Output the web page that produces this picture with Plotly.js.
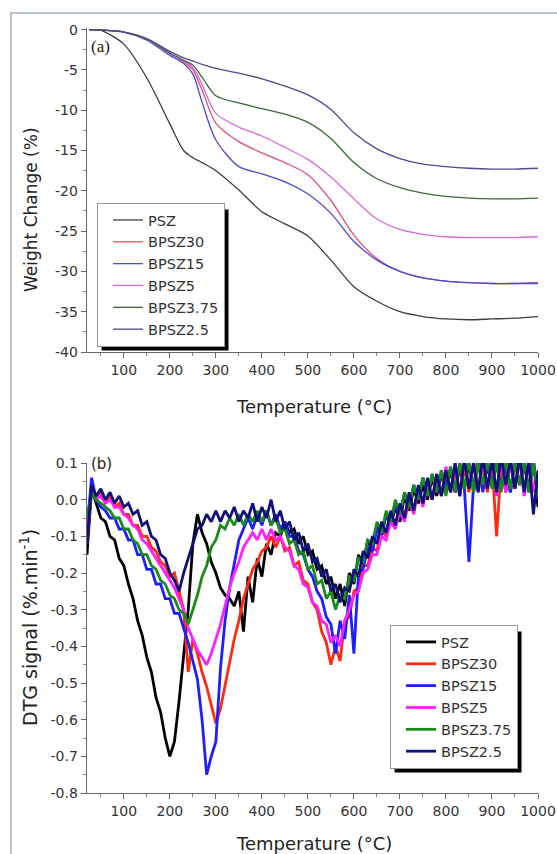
<!DOCTYPE html>
<html><head><meta charset="utf-8">
<script src="https://cdn.plot.ly/plotly-3.0.1.min.js"></script>
<style>html,body{margin:0;padding:0;background:#fff}#chart{width:557px;height:854px}</style>
</head><body><div id="chart"></div>
<script>
// ---------- (a) TGA ----------
const seriesNames = ["PSZ","BPSZ30","BPSZ15","BPSZ5","BPSZ3.75","BPSZ2.5"];
const tgaTemp = [25,50,100,150,200,230,250,270,300,350,400,450,500,550,600,650,700,750,800,850,900,950,1000];
const tgaPSZ     = [0,-0.1,-1.8,-6.0,-11.7,-15.0,-15.9,-16.5,-17.5,-19.9,-22.6,-24.1,-25.6,-28.6,-31.9,-33.7,-35.0,-35.6,-35.9,-36.0,-35.9,-35.8,-35.6];
const tgaBPSZ30  = [0,-0.05,-0.3,-1.2,-3.0,-4.0,-5.0,-7.5,-11.6,-13.9,-15.3,-16.5,-18.0,-21.2,-25.5,-28.4,-30.0,-30.8,-31.2,-31.4,-31.5,-31.5,-31.4];
const tgaBPSZ15  = [0,-0.05,-0.3,-1.3,-3.2,-4.2,-5.5,-9.0,-13.7,-17.0,-17.9,-18.9,-20.4,-22.8,-26.3,-28.6,-30.0,-30.8,-31.2,-31.4,-31.5,-31.5,-31.5];
const tgaBPSZ5   = [0,-0.05,-0.3,-1.2,-3.0,-3.9,-4.7,-6.8,-10.4,-12.1,-13.2,-14.6,-16.1,-18.3,-21.0,-23.5,-24.8,-25.4,-25.7,-25.8,-25.8,-25.8,-25.7];
const tgaBPSZ375 = [0,-0.05,-0.3,-1.2,-2.9,-3.8,-4.4,-5.9,-8.2,-9.1,-9.8,-10.5,-11.5,-13.5,-16.5,-18.5,-19.6,-20.3,-20.7,-20.9,-21.0,-21.0,-20.9];
const tgaBPSZ25  = [0,-0.05,-0.3,-1.1,-2.7,-3.5,-3.9,-4.3,-4.8,-5.4,-6.1,-7.0,-8.1,-9.9,-12.8,-14.8,-16.0,-16.7,-17.0,-17.2,-17.3,-17.3,-17.2];
const tgaTickVals = [0,-5,-10,-15,-20,-25,-30,-35,-40];
const tgaTickText = ["0","-5","-10","-15","-20","-25","-30","-35","-40"];

// ---------- (b) DTG ----------
const dtgTemp = [20,30,40,50,60,70,80,90,100,110,
 120,130,140,150,160,170,180,190,200,210,
 220,230,240,250,260,270,280,290,300,310,
 320,330,340,350,360,370,380,390,400,410,
 420,430,440,450,460,470,480,490,500,510,
 520,530,540,550,560,570,580,590,600,610,
 620,630,640,650,660,670,680,690,700,710,
 720,730,740,750,760,770,780,790,800,810,
 820,830,840,850,860,870,880,890,900,910,
 920,930,940,950,960,970,980,990,1000];
const dtgPSZ = [-0.15,0.03,-0.01,-0.05,-0.06,-0.10,-0.11,-0.16,-0.18,-0.23,
 -0.27,-0.33,-0.37,-0.43,-0.47,-0.54,-0.58,-0.65,-0.70,-0.66,
 -0.55,-0.42,-0.30,-0.12,-0.04,-0.09,-0.12,-0.17,-0.20,-0.24,
 -0.26,-0.27,-0.29,-0.25,-0.36,-0.21,-0.28,-0.16,-0.21,-0.12,
 -0.15,-0.09,-0.10,-0.06,-0.09,-0.08,-0.12,-0.10,-0.15,-0.14,
 -0.19,-0.18,-0.23,-0.21,-0.27,-0.23,-0.29,-0.20,-0.23,-0.15,
 -0.18,-0.11,-0.14,-0.07,-0.10,-0.04,-0.07,-0.02,-0.06,0.01,
 -0.03,0.03,-0.01,0.04,0.00,0.06,0.01,0.07,0.02,0.08,
 0.02,0.09,0.03,0.10,0.02,0.11,0.03,0.09,0.04,0.11,
 0.03,0.10,0.02,0.11,0.04,0.10,0.03,0.11,-0.02];
const dtgBPSZ30 = [-0.12,0.03,0.01,0.02,-0.01,0.01,-0.02,-0.01,-0.04,-0.04,
 -0.07,-0.07,-0.10,-0.10,-0.13,-0.14,-0.17,-0.18,-0.21,-0.20,
 -0.25,-0.30,-0.47,-0.38,-0.42,-0.47,-0.51,-0.56,-0.61,-0.57,
 -0.51,-0.45,-0.38,-0.33,-0.27,-0.23,-0.19,-0.17,-0.14,-0.13,
 -0.10,-0.13,-0.10,-0.14,-0.13,-0.18,-0.17,-0.22,-0.23,-0.28,
 -0.30,-0.36,-0.39,-0.45,-0.40,-0.44,-0.33,-0.32,-0.25,-0.24,
 -0.18,-0.18,-0.13,-0.14,-0.08,-0.10,-0.05,-0.07,-0.02,-0.05,
 0.01,-0.03,0.03,-0.01,0.05,0.00,0.06,0.01,0.07,0.02,
 0.08,0.01,0.09,0.02,0.10,0.03,0.09,0.02,0.10,-0.10,
 0.09,0.02,0.10,0.03,0.11,0.02,0.10,0.03,0.06];
const dtgBPSZ15 = [-0.08,0.06,0.00,-0.02,-0.03,-0.05,-0.05,-0.08,-0.08,-0.11,
 -0.11,-0.15,-0.15,-0.19,-0.19,-0.23,-0.23,-0.27,-0.27,-0.31,
 -0.31,-0.35,-0.39,-0.44,-0.49,-0.60,-0.75,-0.70,-0.66,-0.46,
 -0.33,-0.24,-0.17,-0.11,-0.08,-0.05,-0.08,-0.04,-0.07,-0.03,
 -0.07,-0.04,-0.08,-0.06,-0.10,-0.10,-0.14,-0.15,-0.19,-0.21,
 -0.25,-0.27,-0.32,-0.34,-0.42,-0.33,-0.38,-0.26,-0.42,-0.20,
 -0.19,-0.13,-0.14,-0.08,-0.10,-0.04,-0.07,-0.01,-0.05,0.02,
 -0.02,0.04,0.00,0.06,0.01,0.07,0.02,0.08,0.03,0.09,
 0.02,0.10,0.03,-0.17,0.04,0.11,0.02,0.10,0.04,0.11,
 0.03,0.10,0.02,0.11,0.04,0.10,0.02,0.11,0.00];
const dtgBPSZ5 = [-0.10,0.03,0.00,0.01,-0.01,0.00,-0.02,-0.02,-0.04,-0.05,
 -0.07,-0.08,-0.11,-0.12,-0.14,-0.16,-0.18,-0.20,-0.22,-0.24,
 -0.27,-0.30,-0.35,-0.38,-0.41,-0.43,-0.45,-0.42,-0.38,-0.34,
 -0.29,-0.24,-0.20,-0.17,-0.13,-0.11,-0.09,-0.11,-0.08,-0.11,
 -0.08,-0.11,-0.10,-0.13,-0.14,-0.18,-0.19,-0.23,-0.24,-0.28,
 -0.29,-0.33,-0.34,-0.39,-0.37,-0.40,-0.33,-0.30,-0.26,-0.25,
 -0.20,-0.19,-0.15,-0.15,-0.10,-0.11,-0.06,-0.08,-0.03,-0.06,
 0.00,-0.04,0.03,-0.02,0.05,0.00,0.07,0.01,0.09,0.02,
 0.10,0.01,0.11,0.03,0.10,0.02,0.11,0.03,0.10,0.01,
 0.11,0.02,0.10,0.03,0.11,0.01,0.10,0.02,0.07];
const dtgBPSZ375 = [-0.05,0.02,0.00,-0.01,-0.02,-0.03,-0.05,-0.05,-0.08,-0.08,
 -0.11,-0.12,-0.15,-0.15,-0.18,-0.19,-0.22,-0.23,-0.26,-0.27,
 -0.30,-0.31,-0.34,-0.30,-0.26,-0.21,-0.18,-0.13,-0.11,-0.07,
 -0.08,-0.05,-0.07,-0.04,-0.07,-0.04,-0.06,-0.03,-0.06,-0.03,
 -0.07,-0.05,-0.09,-0.08,-0.12,-0.11,-0.15,-0.14,-0.19,-0.18,
 -0.23,-0.22,-0.27,-0.25,-0.30,-0.26,-0.27,-0.21,-0.22,-0.16,
 -0.17,-0.11,-0.12,-0.06,-0.09,-0.03,-0.06,0.00,-0.04,0.02,
 -0.02,0.04,0.00,0.06,0.01,0.07,0.02,0.08,0.01,0.09,
 0.02,0.10,0.03,0.11,0.02,0.10,0.04,0.11,0.03,0.10,
 0.02,0.11,0.03,0.10,0.04,0.11,0.02,0.10,0.01];
const dtgBPSZ25 = [-0.12,0.04,0.01,0.03,0.00,0.02,-0.01,0.01,-0.02,-0.01,
 -0.04,-0.03,-0.07,-0.06,-0.10,-0.11,-0.15,-0.16,-0.20,-0.22,
 -0.25,-0.20,-0.16,-0.12,-0.08,-0.07,-0.04,-0.06,-0.03,-0.06,
 -0.03,-0.05,-0.02,-0.06,-0.03,-0.05,-0.01,-0.06,-0.02,-0.05,
 0.00,-0.06,-0.03,-0.08,-0.06,-0.11,-0.09,-0.14,-0.12,-0.17,
 -0.16,-0.21,-0.19,-0.25,-0.23,-0.28,-0.24,-0.25,-0.19,-0.21,
 -0.14,-0.16,-0.10,-0.12,-0.06,-0.09,-0.03,-0.07,-0.01,-0.05,
 0.02,-0.03,0.04,-0.01,0.06,0.00,0.07,0.01,0.08,0.02,
 0.10,0.01,0.11,0.03,0.10,0.02,0.12,0.03,0.11,0.02,
 0.12,0.04,0.11,0.03,0.12,0.02,0.11,-0.04,0.08];
const dtgTickVals = [0.1,0,-0.1,-0.2,-0.3,-0.4,-0.5,-0.6,-0.7,-0.8];
const dtgTickText = ["0.1","0.0","-0.1","-0.2","-0.3","-0.4","-0.5","-0.6","-0.7","-0.8"];

const xTicks = [100,200,300,400,500,600,700,800,900,1000];

const tgaColors = ["#3c3c3c","#e2506e","#4a4ad0","#d86ad8","#3d6a3d","#4a4a8e"];
const dtgColors = ["#000000","#ff2a10","#1e1eff","#ff20ff","#1a8a1a","#10107a"];

const tgaY = [tgaPSZ,tgaBPSZ30,tgaBPSZ15,tgaBPSZ5,tgaBPSZ375,tgaBPSZ25];
const dtgY = [dtgPSZ,dtgBPSZ30,dtgBPSZ15,dtgBPSZ5,dtgBPSZ375,dtgBPSZ25];

const traces = [];
seriesNames.forEach((n,i)=>{
  traces.push({x:tgaTemp,y:tgaY[i],name:n,type:'scatter',mode:'lines',
    line:{color:tgaColors[i],width:1.3,shape:'spline',smoothing:0.8},
    xaxis:'x',yaxis:'y',legend:'legend'});
});
seriesNames.forEach((n,i)=>{
  traces.push({x:dtgTemp,y:dtgY[i],name:n,type:'scatter',mode:'lines',
    line:{color:dtgColors[i],width:2.8},
    xaxis:'x2',yaxis:'y2',legend:'legend2'});
});

const W=557,H=854;
const px=(v)=>v/W, py=(v)=>1-v/H;
const FONT='DejaVu Sans, Verdana, sans-serif';
const axFont={family:FONT,size:14,color:'#333'};
const baseX={range:[20,1000],tickvals:xTicks,showline:true,linecolor:'#666',linewidth:1.3,
  ticks:'outside',ticklen:5,tickcolor:'#666',tickfont:axFont,showgrid:false,zeroline:false,
  minor:{dtick:50,tick0:0,ticks:'outside',ticklen:3,tickcolor:'#888'},automargin:false};
const baseY={showline:true,linecolor:'#666',linewidth:1.3,ticks:'outside',ticklen:5,tickcolor:'#666',
  tickfont:axFont,showgrid:false,zeroline:false,automargin:false};

const legendCommon={bgcolor:'#fff',bordercolor:'#999',borderwidth:1,indentation:10,
  font:{family:FONT,size:14.5,color:'#333'},
  xanchor:'left',yanchor:'top',tracegroupgap:0};

function ann(text,x,y,angle,size){
  return {xref:'paper',yref:'paper',x:px(x),y:py(y),xanchor:'center',yanchor:'middle',showarrow:false,
    textangle:angle,text:text,font:{family:FONT,size:size,color:'#222'}};
}

const layout={
  width:W,height:H,margin:{l:0,r:0,t:0,b:0},paper_bgcolor:'#fff',plot_bgcolor:'#fff',
  showlegend:true,
  xaxis:Object.assign({},baseX,{domain:[px(87),px(538)],anchor:'y'}),
  yaxis:Object.assign({},baseY,{domain:[py(352),py(28)],anchor:'x',range:[-40,0.2],
    tickvals:tgaTickVals,ticktext:tgaTickText,
    minor:{dtick:2.5,tick0:0,ticks:'outside',ticklen:3,tickcolor:'#888'}}),
  xaxis2:Object.assign({},baseX,{domain:[px(87),px(538)],anchor:'y2'}),
  yaxis2:Object.assign({},baseY,{domain:[py(793),py(463)],anchor:'x2',range:[-0.8,0.1],
    tickvals:dtgTickVals,ticktext:dtgTickText,
    minor:{dtick:0.05,tick0:0,ticks:'outside',ticklen:3,tickcolor:'#888'}}),
  legend:Object.assign({},legendCommon,{x:px(97),y:py(203)}),
  legend2:Object.assign({},legendCommon,{x:px(390),y:py(625)}),
  annotations:[
    ann('Temperature (°C)',314,406,0,18),
    ann('Weight Change (%)',31,210,-90,17),
    ann('Temperature (°C)',314,843,0,18),
    ann('DTG signal (%.min<sup>-1</sup>)',29,628,-90,19),
    {xref:'paper',yref:'paper',x:px(89),y:py(47),xanchor:'left',yanchor:'middle',showarrow:false,
     text:'(a)',font:{family:'Liberation Serif, Times New Roman, serif',size:17,color:'#222'}},
    {xref:'paper',yref:'paper',x:px(89),y:py(464),xanchor:'left',yanchor:'middle',showarrow:false,
     text:'(b)',font:{family:FONT,size:15,color:'#222'}}
  ],
  shapes:[
    {type:'line',xref:'paper',yref:'paper',x0:px(11),x1:px(11),y0:0,y1:py(13),line:{color:'#b9c2cf',width:2}},
    {type:'line',xref:'paper',yref:'paper',x0:px(10),x1:1,y0:py(13),y1:py(13),line:{color:'#b9c2cf',width:2}}
  ]
};
Plotly.newPlot('chart',traces,layout,{staticPlot:true}).then(gd=>{
  const root=gd.getBoundingClientRect();
  const shapes=layout.shapes.slice();
  gd.querySelectorAll('g.infolayer > g').forEach(g=>{
    const cls=g.getAttribute('class')||'';
    if(!/^legend/.test(cls)) return;
    const bg=g.querySelector('rect.bg'); if(!bg) return;
    const b=bg.getBoundingClientRect();
    const l=b.left-root.left, t=b.top-root.top, r=b.right-root.left, bt=b.bottom-root.top;
    shapes.push({type:'rect',xref:'paper',yref:'paper',x0:px(l+4),x1:px(r+4),y0:py(bt+4),y1:py(t+6),
      fillcolor:'#000',line:{width:0},layer:'above'});
  });
  return Plotly.relayout(gd,{shapes:shapes});
});
</script></body></html>
